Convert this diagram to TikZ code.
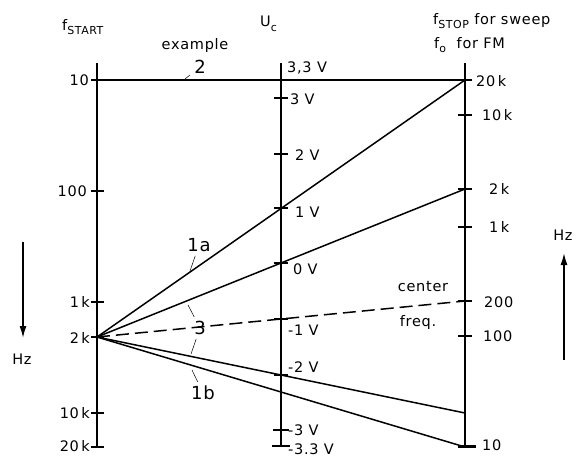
\documentclass[tikz,border=0pt]{standalone}
\usepackage{fontspec}
\setmainfont{DejaVu Sans}[LetterSpace=5]
\usetikzlibrary{arrows.meta}
\newcommand{\lowsub}[1]{\raisebox{-0.6ex}{\fontsize{11}{11}\selectfont #1}}

\begin{document}
\begin{tikzpicture}[x=1pt, y=-1pt, font=\fontsize{14.5}{16}\selectfont,
    axis/.style={line width=2.3pt},
    tick/.style={line width=2pt},
    ray/.style={line width=1.5pt},
    leader/.style={line width=0.5pt},
    lbl/.style={inner sep=0pt},
    curvelbl/.style={inner sep=4pt, font=\fontsize{18}{18}\selectfont}]
\useasboundingbox (0,0) rectangle (582,459);

% Achsen
\coordinate (Ltop) at (97,63);  \coordinate (Lbot) at (97,447);
\coordinate (Mtop) at (281,63); \coordinate (Mbot) at (281,446);
\coordinate (Rtop) at (465,63); \coordinate (Rbot) at (465,447);
\draw[axis] (Ltop) -- (Lbot);
\draw[axis] (Mtop) -- (Mbot);
\draw[axis] (Rtop) -- (Rbot);

% Skala f_START
\coordinate (L10) at (97,80);
\coordinate (L2k) at (97,337);
\draw[tick] (91,80) -- (104,80);
\draw[tick] (91,191) -- (104,191);
\draw[tick] (91,302) -- (104,302);
\draw[tick] (91,337) -- (104,337);
\draw[tick] (91,413) -- (104,413);
\draw[tick] (91,447) -- (104,447);
\node[lbl, anchor=east] (l10) at (89,80) {10};
\node[lbl, anchor=east] (l100) at (87,191) {100};
\node[lbl, anchor=east] (l1k) at (90,302) {1\,k};
\node[lbl, anchor=east] (l2k) at (90,338) {2\,k};
\node[lbl, anchor=east] (l10k) at (90,413) {10\,k};
\node[lbl, anchor=east] (l20k) at (90,446) {20\,k};

% Skala U_c
\draw[tick] (275,80) -- (287,80);
\draw[tick] (274,98) -- (288,98);
\draw[tick] (274,154) -- (288,154);
\draw[tick] (274,208) -- (288,208);
\draw[tick] (274,263) -- (288,263);
\draw[tick] (274,319) -- (288,319);
\draw[tick] (274,375) -- (288,375);
\draw[tick] (273,430) -- (289,430);
\draw[tick] (272,446) -- (290,446);
\node[lbl, anchor=west] (m33) at (287,68) {3,3 V};
\node[lbl, anchor=west] (m3) at (290,99) {3 V};
\node[lbl, anchor=west] (m2) at (295,155) {2 V};
\node[lbl, anchor=west] (m1) at (295,212) {1 V};
\node[lbl, anchor=west] (m0) at (293,269) {0 V};
\node[lbl, anchor=west] (mm1) at (288,330) {-1 V};
\node[lbl, anchor=west] (mm2) at (288,367) {-2 V};
\node[lbl, anchor=west] (mm3) at (288,430) {-3 V};
\node[lbl, anchor=west] (mm33) at (288,449) {-3.3 V};

% Skala f_STOP / f_o
\coordinate (R20k) at (465,80);
\coordinate (R2k) at (465,189);
\coordinate (R200) at (465,301);
\coordinate (R20) at (465,413);
\coordinate (R10) at (465,447);
\draw[tick] (458,80) -- (472,80);
\draw[tick] (458,115) -- (472,115);
\draw[tick] (458,189) -- (472,189);
\draw[tick] (458,227) -- (472,227);
\draw[tick] (458,301) -- (472,301);
\draw[tick] (458,336) -- (472,336);
\draw[line width=3pt] (458,446) -- (476,446);
\node[lbl, anchor=west] (r20k) at (476,81) {20\,k};
\node[lbl, anchor=west] (r10k) at (482,115) {10\,k};
\node[lbl, anchor=west] (r2k) at (489,189) {2\,k};
\node[lbl, anchor=west] (r1k) at (489,227) {1\,k};
\node[lbl, anchor=west] (r200) at (484,302) {200};
\node[lbl, anchor=west] (r100) at (483,336) {100};
\node[lbl, anchor=west] (r10) at (482,445) {10};

% Beispiele
\draw[ray] (L10) -- (R20k);
\draw[ray] (L2k) -- (R20k);
\draw[ray] (L2k) -- (R2k);
\draw[ray, dash pattern=on 13pt off 6pt] (L2k) -- (R200);
\draw[ray] (L2k) -- (R20);
\draw[ray] (L2k) -- (R10);

% Kurvenbezeichnungen
\node (ex) at (195,45) {example};
\node[curvelbl] (n2) at (200,67) {2};
\node[curvelbl] (n1a) at (199,245) {1a};
\node[curvelbl] (n3) at (200,328) {3};
\node[curvelbl] (n1b) at (203,393) {1b};
\coordinate (c2) at (185,79);
\coordinate (c1a) at (190,271);
\coordinate (c3a) at (188,305);
\coordinate (c3b) at (191,354);
\coordinate (c1b) at (192,370);
\draw[leader] (c2) -- (n2);
\draw[leader] (c1a) -- (n1a);
\draw[leader] (c3a) -- (n3);
\draw[leader] (c3b) -- (n3);
\draw[leader] (c1b) -- (n1b);
\node (cen) at (423,287) {center};
\node (frq) at (418,322) {freq.};

% Achsenkoepfe
\node[lbl, anchor=west] (hstart) at (62,27) {f\lowsub{START}};
\node[lbl, anchor=west] (huc) at (260,24) {U\lowsub{c}};
\node[lbl, anchor=west] (hstop) at (433,21) {f\lowsub{STOP} for sweep};
\node[lbl, anchor=west] (hfo) at (434,45) {f\lowsub{o}\ \ for FM};

% Hz-Pfeile
\coordinate (ha) at (23,242); \coordinate (hb) at (23,338);
\draw[line width=1.5pt, -{Latex[length=12pt,width=7pt]}] (ha) -- (hb);
\node (hzl) at (22,359) {Hz};
\coordinate (hc) at (564,360); \coordinate (hd) at (564,253);
\draw[line width=1.5pt, -{Latex[length=12pt,width=7pt]}] (hc) -- (hd);
\node (hzr) at (563,235) {Hz};
\end{tikzpicture}
\end{document}
